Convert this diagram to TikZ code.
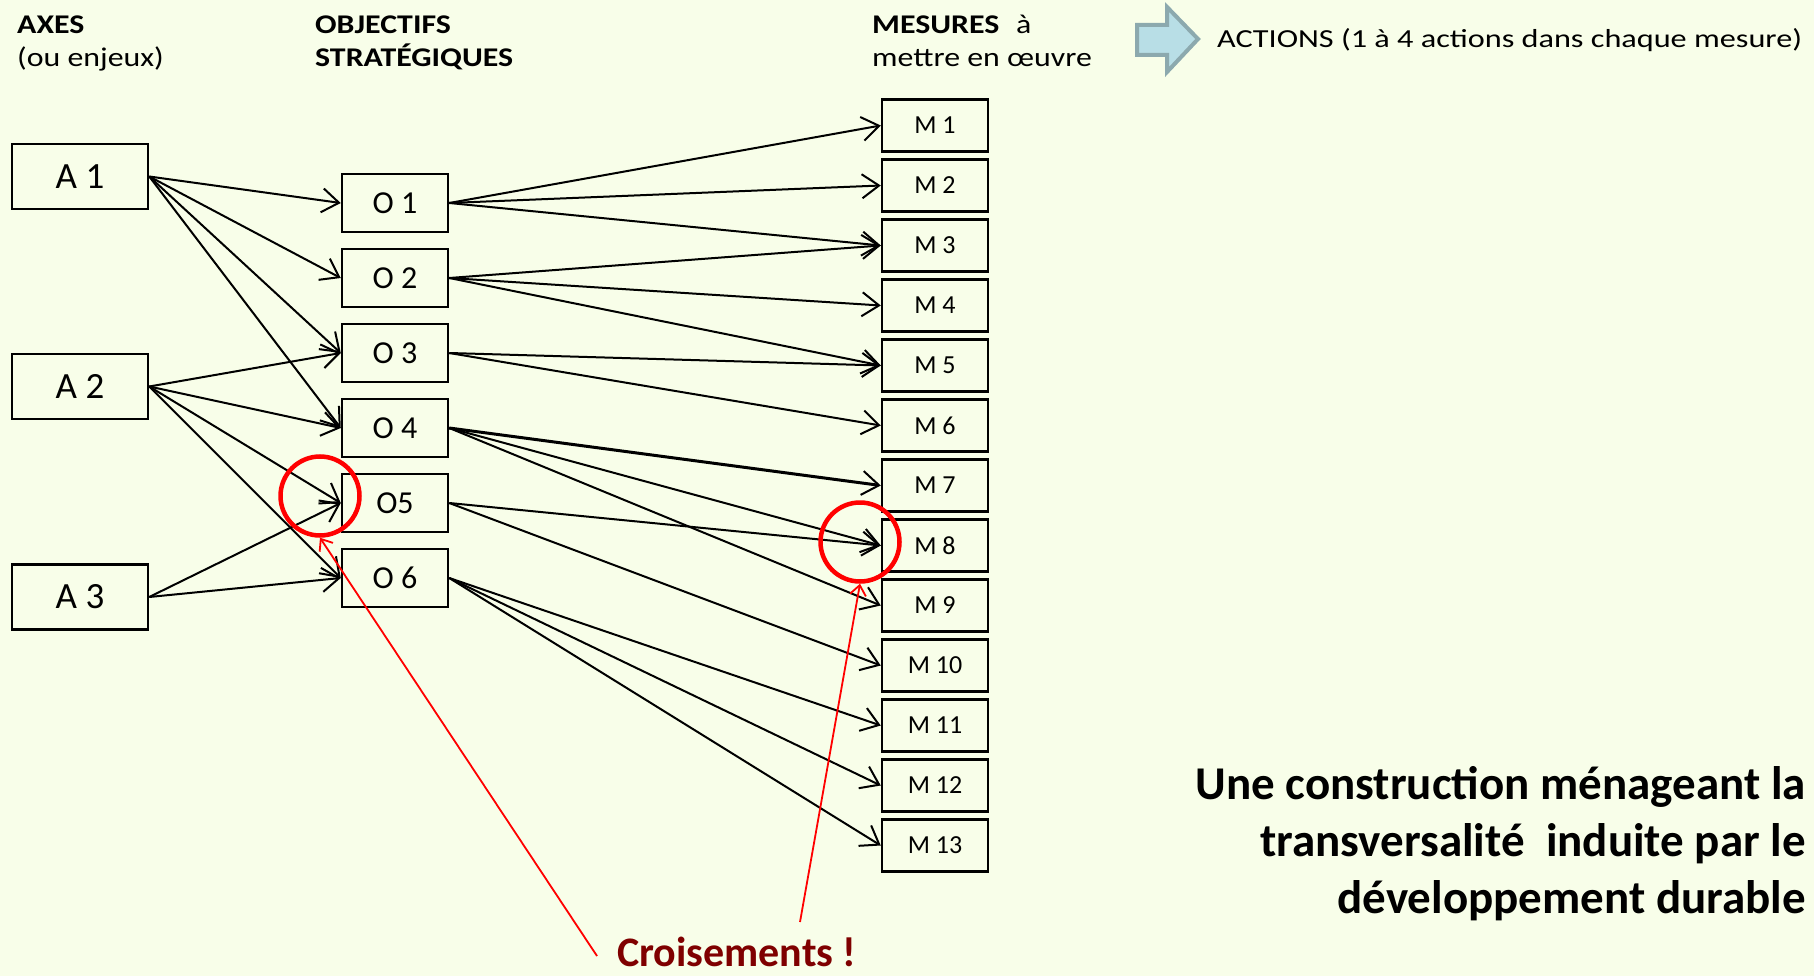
\documentclass[tikz,border=0pt]{standalone}
\usepackage{fontspec}
\usepackage{graphicx}
\setmainfont{Carlito}
\usetikzlibrary{arrows.meta}
\definecolor{bg}{HTML}{F8FEE9}
\definecolor{darkred}{HTML}{7F0000}
\definecolor{arrfill}{HTML}{B8DEE6}
\definecolor{arrline}{HTML}{8CA9AE}
\newcommand\xstr[2]{\scalebox{#1}[1]{#2}}
\tikzset{
  abox/.style={draw, fill=bg, line width=2.5pt, minimum width=136pt, minimum height=65pt, inner sep=0pt, font=\fontsize{37}{44}\selectfont},
  obox/.style={draw, fill=bg, line width=2.5pt, minimum width=106pt, minimum height=58pt, inner sep=0pt, font=\fontsize{32}{38}\selectfont},
  mbox/.style={draw, fill=bg, line width=2.5pt, minimum width=106pt, minimum height=52pt, inner sep=0pt, font=\fontsize{26}{31}\selectfont},
  conn/.style={line width=2pt, -{Straight Barb[length=17pt,width=24pt,line width=2pt]}},
  redarr/.style={red, line width=1.8pt, -{Straight Barb[length=10pt,width=16pt,line width=1.8pt]}},
  ring/.style={circle, draw=red, line width=4.5pt, minimum size=79pt, inner sep=0pt},
  ttl/.style={anchor=base west, inner sep=0pt, font=\fontsize{27}{32}\selectfont},
  ttlb/.style={ttl, font=\fontsize{27}{32}\selectfont\bfseries},
  big/.style={anchor=base east, inner sep=0pt, font=\fontsize{47}{57}\selectfont\bfseries}
}
\begin{document}
\begin{tikzpicture}[x=1pt,y=-1pt]
\fill[bg] (0,0) rectangle (1814,976);
\useasboundingbox (0,0) rectangle (1814,976);

% titles
\node[ttlb] (tAxes) at (17,34) {\xstr{1.18}{AXES}};
\node[ttl] (tEnj) at (17,67) {\xstr{1.18}{(ou enjeux)}};
\node[ttlb] (tObj) at (315,34) {\xstr{1.18}{OBJECTIFS}};
\node[ttlb] (tStr) at (315,67) {\xstr{1.18}{STRATÉGIQUES}};
\node[ttl] (tMes) at (872,34) {\xstr{1.18}{\textbf{MESURES}\hspace{8pt} à}};
\node[ttl] (tMet) at (872,67) {\xstr{1.18}{mettre en œuvre}};

% block arrow and actions
\draw[fill=arrfill, draw=arrline, line width=4pt, line join=miter]
  (1137,25) -- (1167,25) -- (1167,7) -- (1198,39) -- (1167,72) -- (1167,55) -- (1137,55) -- cycle;
\node[ttl, font=\fontsize{26}{31}\selectfont] (tAct) at (1217,48) {\xstr{1.24}{ACTIONS (1 à 4 actions dans chaque mesure)}};

% axes
\node[abox] (A1) at (80,176.5) {A 1};
\node[abox] (A2) at (80,386.5) {A 2};
\node[abox] (A3) at (80,597) {A 3};

% objectives
\node[obox] (O1) at (395,203) {O 1};
\node[obox] (O2) at (395,278) {O 2};
\node[obox] (O3) at (395,353) {O 3};
\node[obox] (O4) at (395,428) {O 4};
\node[obox] (O5) at (395,503) {O5};
\node[obox] (O6) at (395,578) {O 6};

% measures
\foreach \i in {1,...,13} {
  \node[mbox] (M\i) at (935,{125.5+60*(\i-1)}) {M \i};
}

% connectors
\foreach \s/\t in {A1/O1,A1/O2,A1/O3,A1/O4,A2/O3,A2/O4,A2/O5,A2/O6,A3/O5,A3/O6,
  O1/M1,O1/M2,O1/M3,O2/M3,O2/M4,O2/M5,O3/M5,O3/M6,O4/M8,O4/M9,O5/M8,O5/M10,
  O6/M11,O6/M12,O6/M13}
  \draw[conn] (\s.east) -- (\t.west);
\draw[conn, line width=3pt] (O4.east) -- (M7.west);

% crossings
\node[ring] (c1) at (320,496) {};
\node[ring] (c2) at (860,542) {};
\node[anchor=base west, inner sep=0pt, text=darkred, font=\fontsize{42}{50}\selectfont\bfseries] (tCr) at (617,966) {Croisements !};
\coordinate (r1) at (597,956);
\coordinate (r2) at (800,922);
\draw[redarr] (r1) -- (c1.south);
\draw[redarr] (r2) -- (c2.south);

% conclusion
\node[big] (b1) at (1806,799) {Une construction ménageant la};
\node[big] (b2) at (1806,856) {transversalité\ \ induite par le};
\node[big] (b3) at (1806,913) {développement durable};
\end{tikzpicture}
\end{document}
